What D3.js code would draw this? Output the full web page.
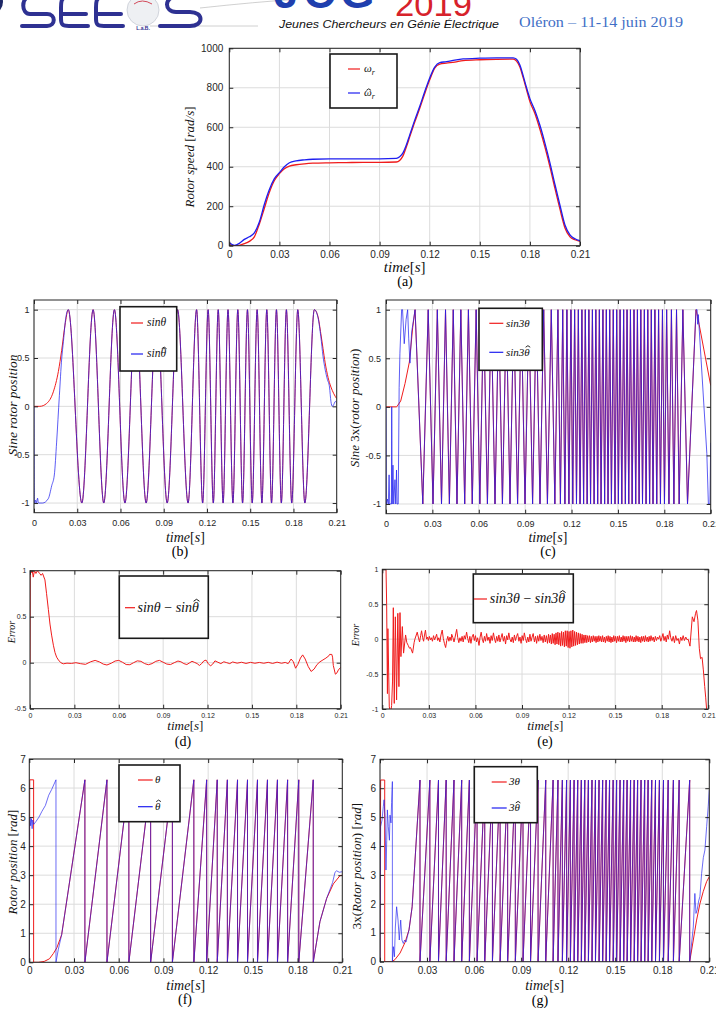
<!DOCTYPE html>
<html>
<head>
<meta charset="utf-8">
<script src="https://cdn.jsdelivr.net/npm/d3@7"></script>
<style>
body { margin: 0; background: #fff; }
svg { display: block; }
</style>
</head>
<body>
<svg id="fig" width="716" height="1009"></svg>
<script>
// ---------- data ----------
const timeTicks = [0, 0.03, 0.06, 0.09, 0.12, 0.15, 0.18, 0.21]
const timeTickLabels = ["0", "0.03", "0.06", "0.09", "0.12", "0.15", "0.18", "0.21"]
const speedTicks = [0, 200, 400, 600, 800, 1000]
const speedTickLabels = ["0", "200", "400", "600", "800", "1000"]
const sineTicks = [-1, -0.5, 0, 0.5, 1]
const sineTickLabels = ["-1", "-0.5", "0", "0.5", "1"]
const errTicksD = [-0.5, 0, 0.5, 1]
const errTickLabelsD = ["-0.5", "0", "0.5", "1"]
const posTicks = [0, 1, 2, 3, 4, 5, 6, 7]
const posTickLabels = ["0", "1", "2", "3", "4", "5", "6", "7"]

// (a) rotor speed, rad/s
const speedTime = [0, 0.003, 0.006, 0.009, 0.012, 0.015, 0.018, 0.021, 0.024, 0.027, 0.030, 0.033, 0.036, 0.040, 0.045, 0.050, 0.060, 0.070, 0.080, 0.090, 0.100, 0.102, 0.104, 0.106, 0.108, 0.111, 0.114, 0.117, 0.120, 0.123, 0.126, 0.130, 0.135, 0.140, 0.150, 0.160, 0.170, 0.172, 0.174, 0.176, 0.178, 0.180, 0.183, 0.186, 0.189, 0.192, 0.195, 0.198, 0.201, 0.204, 0.207, 0.210]
const speedRef = [5, 0, 2, 10, 22, 45, 110, 190, 270, 330, 365, 390, 403, 410, 415, 418, 420, 421, 422, 422, 424, 432, 455, 500, 550, 625, 695, 770, 840, 900, 920, 925, 930, 938, 942, 944, 945, 935, 905, 850, 790, 730, 670, 590, 500, 400, 290, 185, 90, 45, 30, 22]
const speedEst = [15, 2, 12, 32, 45, 65, 120, 210, 285, 340, 370, 400, 420, 430, 435, 438, 440, 440, 440, 440, 442, 450, 470, 510, 560, 635, 705, 780, 850, 905, 928, 932, 940, 946, 950, 952, 952, 945, 915, 860, 800, 745, 685, 610, 520, 420, 310, 205, 105, 55, 35, 25]

// (b) sin(theta): times of the maxima / minima
const bPeaks = [0.0238, 0.0410, 0.0558, 0.0705, 0.0851, 0.0996, 0.1128, 0.1208, 0.1278, 0.1346, 0.1414, 0.1481, 0.1548, 0.1615, 0.1682, 0.1751, 0.1830, 0.1945]
const bTroughs = [0.0332, 0.0484, 0.0631, 0.0778, 0.0924, 0.1069, 0.1170, 0.1244, 0.1312, 0.1380, 0.1447, 0.1514, 0.1581, 0.1648, 0.1716, 0.1788, 0.1879]
const bRedStart = [[0, 0], [0.004, 0], [0.0088, 0.03], [0.0134, 0.15], [0.0169, 0.36], [0.0192, 0.58], [0.0215, 0.84]]
const bRedEnd = [[0.197, 0.93], [0.199, 0.75], [0.2005, 0.6], [0.202, 0.45], [0.204, 0.3], [0.206, 0.2], [0.208, 0.13], [0.21, 0.08]]
const bBlueStart = [[0, 0], [0.0003, -1], [0.001, -0.97], [0.0015, -1], [0.0025, -0.95], [0.003, -1], [0.006, -1], [0.0099, -0.955], [0.0123, -0.82], [0.0141, -0.71], [0.0157, -0.37], [0.0176, 0.11], [0.0192, 0.49], [0.0204, 0.67], [0.022, 0.91]]
const bBlueEnd = [[0.197, 0.92], [0.199, 0.72], [0.2005, 0.52], [0.202, 0.38], [0.2035, 0.28], [0.205, 0.2], [0.206, 0.05], [0.207, 0.0], [0.208, 0.02], [0.209, 0.05], [0.21, 0.04]]

// (c) sin(3 theta): times of the maxima / minima
const cPeaks = [0.0188, 0.0273, 0.0332, 0.0385, 0.0435, 0.0484, 0.0533, 0.0583, 0.0631, 0.0680, 0.0729, 0.0778, 0.0826, 0.0875, 0.0924, 0.0972, 0.1020, 0.1069, 0.1112, 0.1143, 0.1170, 0.1196, 0.1220, 0.1244, 0.1267, 0.1289, 0.1312, 0.1335, 0.1357, 0.1380, 0.1403, 0.1425, 0.1447, 0.1470, 0.1492, 0.1514, 0.1537, 0.1559, 0.1581, 0.1604, 0.1626, 0.1648, 0.1671, 0.1693, 0.1716, 0.1739, 0.1763, 0.1788, 0.1815, 0.1846, 0.1879, 0.1920, 0.2005]
const cTroughs = [0.0238, 0.0304, 0.0359, 0.0410, 0.0459, 0.0509, 0.0558, 0.0607, 0.0656, 0.0705, 0.0753, 0.0802, 0.0851, 0.0899, 0.0948, 0.0996, 0.1044, 0.1092, 0.1128, 0.1157, 0.1183, 0.1208, 0.1232, 0.1255, 0.1278, 0.1301, 0.1323, 0.1346, 0.1369, 0.1391, 0.1414, 0.1436, 0.1458, 0.1481, 0.1503, 0.1525, 0.1548, 0.1570, 0.1592, 0.1615, 0.1637, 0.1659, 0.1682, 0.1705, 0.1727, 0.1751, 0.1775, 0.1801, 0.1830, 0.1862, 0.1896, 0.1950]
const cRedStart = [[0, 0], [0.0069, 0], [0.0095, 0.06], [0.0123, 0.24], [0.0151, 0.46], [0.0173, 0.82]]
const cRedEnd = [[0.2015, 0.93], [0.2025, 0.85], [0.21, 0.22]]
const cBlueStart = [[0, 0], [0.0003, -1], [0.001, -0.95], [0.0015, -1], [0.002, -0.7], [0.0024, -1], [0.0035, -1], [0.0037, 0.0], [0.004, -1], [0.0045, -0.6], [0.005, -1], [0.0058, -0.75], [0.0063, -1], [0.0068, -0.65], [0.0072, -1], [0.0079, -1], [0.0085, 0.2], [0.009, 0.55], [0.0101, 1], [0.0107, 1], [0.0118, 0.65], [0.013, 0.9], [0.014, 1], [0.0147, 0.7], [0.0155, 0.45], [0.0166, 0.77]]
const cBlueEnd = [[0.2012, 1], [0.2016, 0.85], [0.202, 0.95], [0.2075, -0.48], [0.2085, -1], [0.2095, -1], [0.21, -0.37]]

// (d) sin(theta) - sin(theta hat)
const dError = [[0, 0], [0.0002, 1], [0.001, 0.98], [0.0015, 1], [0.0022, 0.93], [0.003, 1], [0.004, 0.97], [0.005, 1], [0.0065, 0.97], [0.0075, 0.95], [0.0085, 0.97], [0.0101, 0.9], [0.0112, 0.75], [0.0124, 0.58], [0.0135, 0.42], [0.0146, 0.3], [0.0158, 0.19], [0.0169, 0.11], [0.018, 0.06], [0.0192, 0.03], [0.0208, 0.0], [0.0225, -0.012], [0.025, -0.005], [0.028, -0.008], [0.031, 0.0], [0.034, -0.01], [0.0375, -0.018], [0.041, 0.01], [0.044, 0.025], [0.047, 0.008], [0.0495, -0.015], [0.052, -0.025], [0.055, -0.005], [0.0575, 0.018], [0.06, 0.025], [0.0625, 0.005], [0.065, -0.02], [0.0675, -0.022], [0.07, 0.0], [0.0725, 0.02], [0.075, 0.015], [0.0775, -0.01], [0.08, -0.022], [0.0825, -0.01], [0.085, 0.015], [0.0875, 0.025], [0.09, 0.005], [0.0925, -0.015], [0.095, -0.02], [0.0975, 0.0], [0.1, 0.018], [0.102, 0.01], [0.104, -0.01], [0.106, -0.02], [0.108, 0.0], [0.1095, 0.015], [0.111, 0.005], [0.113, -0.01], [0.1145, -0.03], [0.116, -0.01], [0.1175, 0.02], [0.119, 0.028], [0.1205, -0.01], [0.122, -0.035], [0.1235, -0.015], [0.125, 0.02], [0.127, 0.005], [0.129, -0.01], [0.131, 0.01], [0.133, 0.0], [0.135, -0.01], [0.137, 0.008], [0.14, -0.005], [0.143, 0.005], [0.146, -0.008], [0.149, 0.004], [0.152, -0.006], [0.155, 0.003], [0.158, -0.006], [0.161, 0.004], [0.164, -0.008], [0.167, 0.006], [0.17, -0.006], [0.1725, 0.003], [0.1745, -0.01], [0.1765, 0.04], [0.178, 0.01], [0.1795, -0.06], [0.181, -0.02], [0.1828, 0.05], [0.1843, 0.085], [0.186, 0.04], [0.188, -0.04], [0.19, -0.095], [0.192, -0.07], [0.194, -0.02], [0.196, 0.01], [0.198, 0.03], [0.2, 0.05], [0.202, 0.075], [0.2025, 0.09], [0.204, 0.09], [0.2045, 0.06], [0.205, -0.03], [0.2064, -0.125], [0.2075, -0.11], [0.2084, -0.08], [0.21, -0.05]]

// (e) sin(3 theta) - sin(3 theta hat)
const eError = [[0, 0], [0.0002, 1], [0.0024, 1], [0.0028, 0.5], [0.0033, -0.78], [0.0036, 0.15], [0.0045, -0.97], [0.0054, -1.05], [0.006, -0.95], [0.0066, -0.6], [0.0071, 0.45], [0.0077, -0.92], [0.0084, 0.32], [0.0092, -0.87], [0.01, 0.37], [0.0107, -0.68], [0.0114, 0.38], [0.012, -0.25], [0.0129, 0.18], [0.0137, -0.2], [0.015, 0.06], [0.0158, -0.05], [0.0167, -0.09], [0.0175, -0.13], [0.0182, -0.12], [0.0195, -0.2], [0.0205, -0.05], [0.021, 0.0], [0.0225, 0.1], [0.0232, 0.03], [0.024, -0.04], [0.0247, 0.05], [0.0253, 0.12], [0.026, 0.02], [0.0266, -0.03], [0.0272, 0.06], [0.0278, 0.13], [0.0285, 0.0], [0.0291, 0.03], [0.0297, -0.02], [0.0303, 0.04], [0.031, -0.01], [0.0316, 0.02], [0.0323, -0.03], [0.033, 0.05], [0.0337, -0.01], [0.0344, 0.03], [0.035, 0.07], [0.0357, -0.02], [0.0364, 0.02], [0.0371, -0.04], [0.0378, 0.06], [0.0386, 0.13], [0.0393, 0.01], [0.04, -0.06], [0.0408, -0.12], [0.0415, -0.02], [0.0422, 0.04], [0.0429, -0.03], [0.0436, 0.03], [0.0443, -0.02], [0.0447, 0.07], [0.0455, 0.02], [0.0462, -0.04], [0.0469, 0.03], [0.0479, 0.14], [0.0486, 0.02], [0.0493, -0.05], [0.05, 0.02], [0.0507, -0.03], [0.0514, 0.04], [0.0521, -0.04], [0.0528, 0.05], [0.0535, 0.0], [0.0543, 0.1], [0.055, 0.01], [0.0557, -0.05], [0.0564, 0.04], [0.0571, -0.06], [0.0578, 0.03], [0.0586, 0.07], [0.0593, -0.02], [0.06, 0.05], [0.0607, -0.04], [0.0614, 0.02], [0.0623, -0.09], [0.063, 0.03], [0.0637, 0.1], [0.0644, 0.0], [0.0651, -0.05], [0.0658, 0.04], [0.0665, -0.03], [0.0672, 0.08], [0.068, -0.02], [0.0687, 0.03], [0.0694, -0.06], [0.0701, 0.05], [0.0708, -0.02], [0.0716, 0.09], [0.0723, 0.0], [0.073, -0.05], [0.0737, 0.04], [0.0744, -0.03], [0.0751, 0.06], [0.0758, -0.04], [0.0765, 0.02], [0.0772, 0.08], [0.078, -0.03], [0.0787, 0.04], [0.0794, -0.07], [0.0801, 0.05], [0.0808, -0.01], [0.0815, 0.09], [0.0822, 0.0], [0.083, -0.04], [0.0837, 0.03], [0.0844, -0.05], [0.0851, 0.06], [0.0858, -0.02], [0.0865, 0.04], [0.0872, 0.08], [0.088, -0.03], [0.0887, 0.03], [0.0894, -0.06], [0.0901, 0.05], [0.0908, -0.02], [0.0915, 0.09], [0.0922, 0.01], [0.093, -0.05], [0.0937, 0.03], [0.0944, -0.04], [0.0951, 0.07], [0.0958, -0.03], [0.0965, 0.03], [0.0972, 0.08], [0.098, -0.04], [0.0987, 0.04], [0.0994, -0.06], [0.1001, 0.05], [0.1008, -0.03], [0.1015, 0.07], [0.1022, -0.02], [0.1029, 0.04], [0.1036, -0.05], [0.1043, 0.06], [0.105, -0.04], [0.1057, 0.05], [0.1064, -0.06], [0.1071, 0.07], [0.1077, -0.05], [0.1083, 0.06], [0.1089, -0.07], [0.1095, 0.08], [0.1101, -0.06], [0.1107, 0.07], [0.1113, -0.08], [0.1119, 0.09], [0.1125, -0.07], [0.1131, 0.1], [0.1137, -0.08], [0.1143, 0.09], [0.1149, -0.1], [0.1155, 0.11], [0.1161, -0.09], [0.1167, 0.1], [0.1173, -0.11], [0.1179, 0.12], [0.1185, -0.1], [0.1191, 0.12], [0.1197, -0.12], [0.1203, 0.11], [0.1209, -0.13], [0.1215, 0.12], [0.1221, -0.11], [0.1227, 0.13], [0.1233, -0.1], [0.1239, 0.11], [0.1245, -0.09], [0.1251, 0.1], [0.1257, -0.08], [0.1263, 0.09], [0.1269, -0.07], [0.1275, 0.08], [0.1281, -0.06], [0.1287, 0.07], [0.1293, -0.06], [0.1299, 0.06], [0.1305, -0.05], [0.1311, 0.06], [0.1317, -0.05], [0.1323, 0.05], [0.1329, -0.04], [0.1335, 0.05], [0.1341, -0.05], [0.1347, 0.04], [0.1353, -0.04], [0.1359, 0.05], [0.1365, -0.03], [0.1371, 0.04], [0.1377, -0.05], [0.1383, 0.04], [0.1389, -0.04], [0.1395, 0.05], [0.1401, -0.03], [0.1407, 0.04], [0.1413, -0.04], [0.1419, 0.05], [0.1425, -0.04], [0.1431, 0.03], [0.1437, -0.05], [0.1443, 0.04], [0.1449, -0.03], [0.1455, 0.05], [0.1461, -0.04], [0.1467, 0.04], [0.1473, -0.05], [0.1479, 0.03], [0.1485, -0.04], [0.1491, 0.05], [0.1497, -0.03], [0.1503, 0.04], [0.1509, -0.05], [0.1515, 0.04], [0.1521, -0.03], [0.1527, 0.05], [0.1533, -0.04], [0.1539, 0.03], [0.1545, -0.04], [0.1551, 0.05], [0.1557, -0.03], [0.1563, 0.04], [0.1569, -0.05], [0.1575, 0.04], [0.1581, -0.03], [0.1587, 0.04], [0.1593, -0.04], [0.1599, 0.05], [0.1605, -0.03], [0.1611, 0.04], [0.1617, -0.04], [0.1623, 0.03], [0.1629, -0.04], [0.1635, 0.05], [0.1641, -0.03], [0.1647, 0.04], [0.1653, -0.04], [0.1659, 0.03], [0.1665, -0.05], [0.1671, 0.04], [0.1677, -0.03], [0.1683, 0.04], [0.1689, -0.04], [0.1695, 0.05], [0.1701, -0.03], [0.1707, 0.03], [0.1713, -0.04], [0.1719, 0.04], [0.1725, -0.03], [0.1731, 0.05], [0.1738, -0.02], [0.1745, 0.03], [0.1752, -0.04], [0.1759, 0.04], [0.1766, -0.02], [0.1773, 0.03], [0.178, 0.0], [0.1787, 0.05], [0.1794, -0.03], [0.1801, 0.02], [0.1808, 0.08], [0.1815, -0.02], [0.1822, 0.04], [0.1829, -0.04], [0.1836, 0.06], [0.1843, 0.0], [0.1851, 0.12], [0.1858, 0.02], [0.1866, -0.03], [0.1874, 0.04], [0.1882, -0.05], [0.189, 0.05], [0.1898, -0.02], [0.1906, 0.01], [0.1914, -0.07], [0.1922, 0.03], [0.193, -0.02], [0.1938, 0.05], [0.1946, -0.02], [0.1955, 0.03], [0.1963, -0.01], [0.197, 0.0], [0.1982, -0.1], [0.1997, 0.32], [0.2008, 0.25], [0.2018, 0.37], [0.2024, 0.41], [0.2033, 0.27], [0.2042, -0.13], [0.205, -0.28], [0.206, -0.26], [0.2068, -0.44], [0.2077, -0.68], [0.2083, -0.83], [0.2089, -1], [0.2095, -1.15]]

// (f) theta wrapped to [0, 2pi]: times where it wraps
const wrapTop = 6.2832
const fWraps = [0.0373, 0.0521, 0.0668, 0.0814, 0.0960, 0.1104, 0.1190, 0.1261, 0.1329, 0.1397, 0.1464, 0.1531, 0.1598, 0.1665, 0.1733, 0.1808, 0.1905]
const fRedStart = [[0, 0], [0.0003, 6.2832], [0.0029, 6.2832], [0.0029, 0], [0.006, 0], [0.01, 0.03], [0.0135, 0.12], [0.0161, 0.3], [0.0185, 0.5], [0.0205, 0.78], [0.0217, 0.95]]
const fRedEnd = [[0.195, 1.4], [0.1995, 2.2], [0.204, 2.7], [0.2084, 2.98], [0.21, 3.0]]
const fBlueStart = [[0, 0], [0.0002, 4.8], [0.0005, 5.0], [0.0009, 4.7], [0.0014, 4.95], [0.0019, 4.6], [0.0023, 4.9], [0.003, 4.75], [0.0045, 4.85], [0.0065, 5.0], [0.0085, 5.2], [0.0108, 5.4], [0.013, 5.75], [0.015, 5.95], [0.0179, 6.2832], [0.0179, 0], [0.0195, 0.45], [0.0217, 0.95]]
const fBlueEnd = [[0.195, 1.4], [0.1995, 2.2], [0.2035, 2.75], [0.2051, 3.1], [0.2062, 3.15], [0.208, 3.1], [0.21, 3.12]]

// (g) 3 theta wrapped to [0, 2pi]
const gWraps = [0.0255, 0.0318, 0.0373, 0.0422, 0.0472, 0.0521, 0.0570, 0.0619, 0.0668, 0.0717, 0.0766, 0.0814, 0.0863, 0.0912, 0.0960, 0.1008, 0.1057, 0.1104, 0.1135, 0.1163, 0.1190, 0.1214, 0.1238, 0.1261, 0.1284, 0.1306, 0.1329, 0.1352, 0.1374, 0.1397, 0.1420, 0.1442, 0.1464, 0.1487, 0.1509, 0.1531, 0.1554, 0.1576, 0.1598, 0.1621, 0.1643, 0.1665, 0.1688, 0.1710, 0.1733, 0.1757, 0.1782, 0.1808, 0.1838, 0.1871, 0.1908, 0.1975]
const gRedStart = [[0, 0], [0.0004, 6.2832], [0.003, 6.2832], [0.003, 0], [0.0075, 0], [0.0095, 0.07], [0.0128, 0.3], [0.016, 0.67], [0.0185, 1.1], [0.0205, 1.9]]
const gRedEnd = [[0.1998, 0.75], [0.2019, 1.44], [0.204, 2.0], [0.2061, 2.42], [0.2083, 2.77], [0.21, 2.94]]
const gBlueStart = [[0, 0], [0.0004, 4.67], [0.0013, 4.9], [0.0021, 5.36], [0.0026, 5.6], [0.0032, 5.0], [0.0038, 3.17], [0.0043, 4.2], [0.0047, 5.25], [0.0053, 4.67], [0.006, 4.2], [0.0064, 5.07], [0.007, 4.8], [0.0074, 5.5], [0.0079, 6.23], [0.0079, 0], [0.0085, 0.52], [0.0092, 0.17], [0.0098, 1.2], [0.0106, 1.9], [0.0115, 1.44], [0.0123, 0.75], [0.0132, 1.44], [0.014, 0.75], [0.0149, 0.63], [0.0157, 0.75], [0.0166, 0.68], [0.0185, 1.1], [0.0205, 1.9]]
const gBlueEnd = [[0.1998, 1.2], [0.2008, 2.36], [0.2015, 1.67], [0.2023, 1.8], [0.2032, 2.1], [0.204, 2.25], [0.2051, 3.05], [0.2062, 3.6], [0.2072, 3.86], [0.2083, 4.67], [0.2093, 5.36], [0.21, 5.94]]

// ---------- helpers ----------
const RED = "#f01c1c"
const BLUE = "#1e1ef0"
const SANS = "'Liberation Sans', Arial, sans-serif"
const SERIF = "'Liberation Serif', 'Times New Roman', serif"

function extrema(peaks, troughs) {
    return peaks.map(t => [t, 1]).concat(troughs.map(t => [t, -1])).sort((a, b) => a[0] - b[0])
}
function sawtooth(wraps) {
    return wraps.flatMap(t => [[t, wrapTop], [t, 0]])
}
// parts: [text, italic, sub, hat]   hat = "tall" | "low" puts a circumflex over the last char
function richText(sel, parts, parent) {
    let fs = +sel.attr("font-size")
    let n = 0
    let hats = []
    parts.forEach(p => {
        let t = sel.append("tspan").text(p[0]).attr("font-style", p[1] ? "italic" : "normal")
        if (p[2]) t.attr("font-size", "72%").attr("dy", "0.3em")
        n += p[0].length
        if (p[3]) hats.push([n - 1, p[3]])
    })
    hats.forEach(([idx, kind]) => {
        let node = sel.node()
        let ext = node.getExtentOfChar(idx)
        let base = node.getStartPositionOfChar(idx).y
        let cx = ext.x + ext.width / 2 + fs * 0.08
        let apex = base - fs * (kind === "tall" ? 0.9 : 0.68)
        let hw = fs * 0.21, hh = fs * 0.14
        parent.append("path")
            .attr("d", `M${cx - hw},${apex + hh} L${cx},${apex} L${cx + hw},${apex + hh}`)
            .attr("fill", "none").attr("stroke", "#111").attr("stroke-width", Math.max(0.9, fs * 0.07))
    })
    return sel
}

const svg = d3.select("#fig")
const defs = svg.append("defs")

function drawPanel(p) {
    let x = d3.scaleLinear().domain([0, 0.21]).range([p.left, p.right])
    let y = d3.scaleLinear().domain(p.yDomain).range([p.bottom, p.top])
    let g = svg.append("g")

    defs.append("clipPath").attr("id", "clip-" + p.id)
        .append("rect")
        .attr("x", p.left).attr("y", p.top)
        .attr("width", p.right - p.left).attr("height", p.bottom - p.top)

    // grid
    g.append("g").selectAll("line").data(timeTicks).join("line")
        .attr("x1", d => x(d)).attr("x2", d => x(d))
        .attr("y1", p.top).attr("y2", p.bottom)
        .attr("stroke", "#dcdcdc").attr("stroke-width", 1)
    g.append("g").selectAll("line").data(p.yTicks).join("line")
        .attr("x1", p.left).attr("x2", p.right)
        .attr("y1", d => y(d)).attr("y2", d => y(d))
        .attr("stroke", "#dcdcdc").attr("stroke-width", 1)

    // series
    let lines = g.append("g").attr("clip-path", `url(#clip-${p.id})`)
    p.series.forEach(s => {
        lines.append("path")
            .datum(s.data)
            .attr("fill", "none")
            .attr("stroke", s.color)
            .attr("stroke-width", s.width || 1)
            .attr("stroke-opacity", s.opacity || 1)
            .attr("stroke-linejoin", "round")
            .attr("d", d3.line().x(d => x(d[0])).y(d => y(d[1])).curve(s.curve || d3.curveLinear))
    })

    // axes, ticks pointing inward on all four sides
    let styleAxis = a => {
        a.select(".domain").remove()
        a.selectAll(".tick line").attr("stroke", "#262626")
        a.selectAll(".tick text").attr("fill", "#262626")
            .attr("font-family", SANS).attr("font-size", p.tickFont)
    }
    g.append("g").attr("transform", `translate(0,${p.bottom})`)
        .call(d3.axisBottom(x).tickValues(timeTicks).tickFormat((d, i) => timeTickLabels[i])
            .tickSizeInner(-4).tickSizeOuter(0).tickPadding(p.xPad))
        .call(styleAxis)
    g.append("g").attr("transform", `translate(0,${p.top})`)
        .call(d3.axisTop(x).tickValues(timeTicks).tickFormat("").tickSizeInner(-4).tickSizeOuter(0))
        .call(styleAxis)
    g.append("g").attr("transform", `translate(${p.left},0)`)
        .call(d3.axisLeft(y).tickValues(p.yTicks).tickFormat((d, i) => p.yTickLabels[i])
            .tickSizeInner(-4).tickSizeOuter(0).tickPadding(p.yPad))
        .call(styleAxis)
    g.append("g").attr("transform", `translate(${p.right},0)`)
        .call(d3.axisRight(y).tickValues(p.yTicks).tickFormat("").tickSizeInner(-4).tickSizeOuter(0))
        .call(styleAxis)

    g.append("rect")
        .attr("x", p.left).attr("y", p.top)
        .attr("width", p.right - p.left).attr("height", p.bottom - p.top)
        .attr("fill", "none").attr("stroke", "#262626").attr("stroke-width", 1)

    // legend
    let L = p.legend
    let lg = g.append("g")
    lg.append("rect")
        .attr("x", L.x).attr("y", L.y).attr("width", L.w).attr("height", L.h)
        .attr("fill", "#fff").attr("stroke", "#1a1a1a").attr("stroke-width", 1.6)
    L.items.forEach(it => {
        lg.append("line")
            .attr("x1", L.x1).attr("x2", L.x2).attr("y1", it.y).attr("y2", it.y)
            .attr("stroke", it.color).attr("stroke-width", 1.2)
        richText(lg.append("text")
            .attr("x", L.tx).attr("y", it.y + L.fs * 0.3)
            .attr("font-family", SERIF).attr("font-size", L.fs).attr("fill", "#111"), it.label, lg)
    })

    // axis labels
    richText(svg.append("text")
        .attr("x", (p.left + p.right) / 2 + (p.xlDx || 0)).attr("y", p.xlY)
        .attr("text-anchor", "middle").attr("font-family", SERIF)
        .attr("font-size", p.xlFs).attr("fill", "#111"),
        [["time", 1], ["[", 0], ["s", 1], ["]", 0]], svg)
    richText(svg.append("text")
        .attr("transform", `translate(${p.ylX},${p.ylY}) rotate(-90)`)
        .attr("text-anchor", "middle").attr("font-family", SERIF)
        .attr("font-size", p.ylFs).attr("fill", "#111"), p.ylabel, svg)
    svg.append("text")
        .attr("x", p.tagX).attr("y", p.tagY)
        .attr("text-anchor", "middle").attr("font-family", SERIF)
        .attr("font-size", 14).attr("fill", "#000")
        .text(p.tag)
}

// ---------- header ----------
let hd = svg.append("g")
hd.append("path").attr("d", "M200,8 Q255,2 300,-1")
    .attr("fill", "none").attr("stroke", "#c4c4c4").attr("stroke-width", 0.8)
hd.append("line").attr("x1", 150).attr("x2", 258).attr("y1", 26).attr("y2", 26)
    .attr("stroke", "#c4c4c4").attr("stroke-width", 0.8)
hd.append("ellipse").attr("cx", -8).attr("cy", 2).attr("rx", 11).attr("ry", 12).attr("fill", "#1d2766")
hd.append("circle").attr("cx", 143).attr("cy", 10).attr("r", 16)
    .attr("fill", "#eef0f3").attr("stroke", "#c8ccd4").attr("stroke-width", 0.8)
hd.append("path").attr("d", "M134,4 Q142,-2 152,4").attr("fill", "none").attr("stroke", "#d24a5a").attr("stroke-width", 1)
hd.append("text").attr("x", 143).attr("y", 30).attr("text-anchor", "middle")
    .attr("font-family", SANS).attr("font-size", 5).attr("font-weight", "bold").attr("fill", "#2e2f8f").text("L.a.B.")
let logo = hd.append("g").attr("fill", "none").attr("stroke", "#2e3192")
    .attr("stroke-width", 4).attr("stroke-linecap", "round")
logo.append("path").attr("d", "M54,-3 L30,-3 C21,-3 21,14 30,14 L47,14 C56,14 56,26 47,26 L22,26")
logo.append("path").attr("d", "M88,-3 L68,-3 C61,-3 61,2 61,8 L61,19 C61,25 63,26 69,26 L88,26 M62,14 L86,14")
logo.append("path").attr("d", "M123,-3 L103,-3 C96,-3 96,2 96,8 L96,19 C96,25 98,26 104,26 L123,26 M97,14 L121,14")
logo.append("path").attr("d", "M202,-3 L176,-3 C164,-3 164,12 176,12 L190,12 C204,12 204,26 190,26 L160,26")
hd.append("text").attr("x", 274).attr("y", 8)
    .attr("font-family", SANS).attr("font-weight", "bold").attr("font-size", 44)
    .attr("letter-spacing", 5).attr("fill", "#1f3fae").text("JCG")
hd.append("text").attr("x", 395).attr("y", 15.5)
    .attr("font-family", SANS).attr("font-size", 34).attr("fill", "#d7222b")
    .attr("textLength", 77).attr("lengthAdjust", "spacingAndGlyphs").text("2019")
hd.append("text").attr("x", 279).attr("y", 27.5)
    .attr("font-family", SANS).attr("font-style", "italic").attr("font-size", 11.5)
    .attr("textLength", 220).attr("lengthAdjust", "spacingAndGlyphs")
    .attr("fill", "#111").text("Jeunes Chercheurs en Génie Électrique")
hd.append("text").attr("x", 519).attr("y", 27)
    .attr("font-family", SERIF).attr("font-size", 15)
    .attr("textLength", 164).attr("lengthAdjust", "spacingAndGlyphs")
    .attr("fill", "#3f6fc6").text("Oléron – 11-14 juin 2019")

// ---------- panels ----------
const panels = [
    {
        id: "a", left: 229.3, right: 580, top: 48.3, bottom: 245.7,
        yDomain: [0, 1000], yTicks: speedTicks, yTickLabels: speedTickLabels,
        tickFont: 10, xPad: 5, yPad: 6,
        series: [
            {data: speedTime.map((t, i) => [t, speedRef[i]]), color: RED, width: 1.3, curve: d3.curveMonotoneX},
            {data: speedTime.map((t, i) => [t, speedEst[i]]), color: BLUE, width: 1.3, curve: d3.curveMonotoneX}
        ],
        legend: {x: 330, y: 54, w: 67, h: 54, x1: 348, x2: 360, tx: 364, fs: 11,
            items: [{y: 69, color: RED, label: [["ω", 1], ["r", 1, 1]]},
                {y: 93, color: BLUE, label: [["ω", 1, 0, "low"], ["r", 1, 1]]}]},
        xlY: 272, xlFs: 15, ylX: 194, ylY: 157, ylFs: 13,
        ylabel: [["Rotor speed ", 1], ["[", 0], ["rad/s", 1], ["]", 0]],
        tag: "(a)", tagX: 405, tagY: 286
    },
    {
        id: "b", left: 34, right: 336.7, top: 300, bottom: 512.7,
        yDomain: [-1.1, 1.1], yTicks: sineTicks, yTickLabels: sineTickLabels,
        tickFont: 9, xPad: 7, yPad: 4.5,
        series: [
            {data: bRedStart.concat(extrema(bPeaks, bTroughs), bRedEnd), color: RED, curve: d3.curveMonotoneX},
            {data: bBlueStart.concat(extrema(bPeaks, bTroughs), bBlueEnd), color: BLUE, opacity: 0.72, curve: d3.curveMonotoneX}
        ],
        legend: {x: 120, y: 306.7, w: 56.7, h: 64.3, x1: 131, x2: 143, tx: 147, fs: 11.5,
            items: [{y: 323, color: RED, label: [["sinθ", 1]]},
                {y: 354, color: BLUE, label: [["sinθ", 1, 0, "tall"]]}]},
        xlY: 542, xlFs: 14, ylX: 17, ylY: 405, ylFs: 13.5,
        ylabel: [["Sine rotor position", 1]],
        tag: "(b)", tagX: 180, tagY: 556
    },
    {
        id: "c", left: 386, right: 710.7, top: 300, bottom: 513.7,
        yDomain: [-1.1, 1.1], yTicks: sineTicks, yTickLabels: sineTickLabels,
        tickFont: 9, xPad: 7, yPad: 5,
        series: [
            {data: cRedStart.concat(extrema(cPeaks, cTroughs), cRedEnd), color: RED},
            {data: cBlueStart.concat(extrema(cPeaks, cTroughs), cBlueEnd), color: BLUE, opacity: 0.72}
        ],
        legend: {x: 479, y: 308.3, w: 63.3, h: 62, x1: 489.3, x2: 503.3, tx: 506, fs: 11,
            items: [{y: 323.3, color: RED, label: [["sin3θ", 1]]},
                {y: 352.3, color: BLUE, label: [["sin3θ", 1, 0, "tall"]]}]},
        xlY: 542, xlFs: 14, xlDx: -0.4, ylX: 359, ylY: 408, ylFs: 13,
        ylabel: [["Sine ", 1], ["3x(", 0], ["rotor position", 1], [")", 0]],
        tag: "(c)", tagX: 548, tagY: 556
    },
    {
        id: "d", left: 30, right: 340.7, top: 570.7, bottom: 708.7,
        yDomain: [-0.5, 1], yTicks: errTicksD, yTickLabels: errTickLabelsD,
        tickFont: 7, xPad: 4, yPad: 3.5,
        series: [{data: dError, color: RED}],
        legend: {x: 119.3, y: 576, w: 89, h: 62.3, x1: 125, x2: 135, tx: 137.5, fs: 14,
            items: [{y: 607.7, color: RED, label: [["sinθ", 1], [" − ", 0], ["sinθ", 1, 0, "tall"]]}]},
        xlY: 730, xlFs: 13, ylX: 15, ylY: 632, ylFs: 10,
        ylabel: [["Error", 1]],
        tag: "(d)", tagX: 183, tagY: 746
    },
    {
        id: "e", left: 382.3, right: 708.3, top: 569.3, bottom: 709,
        yDomain: [-1, 1], yTicks: sineTicks, yTickLabels: sineTickLabels,
        tickFont: 7, xPad: 4, yPad: 4,
        series: [{data: eError, color: RED}],
        legend: {x: 473.3, y: 574, w: 100, h: 48.7, x1: 474, x2: 487, tx: 489.7, fs: 14,
            items: [{y: 599, color: RED, label: [["sin3θ", 1], [" − ", 0], ["sin3θ", 1, 0, "tall"]]}]},
        xlY: 730, xlFs: 13, ylX: 359, ylY: 635, ylFs: 10,
        ylabel: [["Error", 1]],
        tag: "(e)", tagX: 545, tagY: 746
    },
    {
        id: "f", left: 29.3, right: 342.3, top: 759, bottom: 962.3,
        yDomain: [0, 7], yTicks: posTicks, yTickLabels: posTickLabels,
        tickFont: 10, xPad: 4.5, yPad: 3.5,
        series: [
            {data: fRedStart.concat(sawtooth(fWraps), fRedEnd), color: RED},
            {data: fBlueStart.concat(sawtooth(fWraps), fBlueEnd), color: BLUE, opacity: 0.65}
        ],
        legend: {x: 119, y: 765, w: 61, h: 56.7, x1: 138, x2: 152.7, tx: 155, fs: 11,
            items: [{y: 780, color: RED, label: [["θ", 1]]},
                {y: 806.7, color: BLUE, label: [["θ", 1, 0, "tall"]]}]},
        xlY: 990, xlFs: 14, ylX: 17, ylY: 862, ylFs: 13,
        ylabel: [["Rotor position ", 1], ["[", 0], ["rad", 1], ["]", 0]],
        tag: "(f)", tagX: 185, tagY: 1004
    },
    {
        id: "g", left: 380, right: 709.3, top: 759.3, bottom: 961.7,
        yDomain: [0, 7], yTicks: posTicks, yTickLabels: posTickLabels,
        tickFont: 10, xPad: 5, yPad: 4,
        series: [
            {data: gRedStart.concat(sawtooth(gWraps), gRedEnd), color: RED},
            {data: gBlueStart.concat(sawtooth(gWraps), gBlueEnd), color: BLUE, opacity: 0.65}
        ],
        legend: {x: 474.3, y: 766.7, w: 63, h: 56, x1: 491.7, x2: 506.7, tx: 509, fs: 11,
            items: [{y: 782, color: RED, label: [["3θ", 1]]},
                {y: 808, color: BLUE, label: [["3θ", 1, 0, "tall"]]}]},
        xlY: 990, xlFs: 14, ylX: 361, ylY: 866, ylFs: 13,
        ylabel: [["3x(", 0], ["Rotor position", 1], [") ", 0], ["[", 0], ["rad", 1], ["]", 0]],
        tag: "(g)", tagX: 540, tagY: 1005
    }
]

panels.forEach(drawPanel)
</script>
</body>
</html>
